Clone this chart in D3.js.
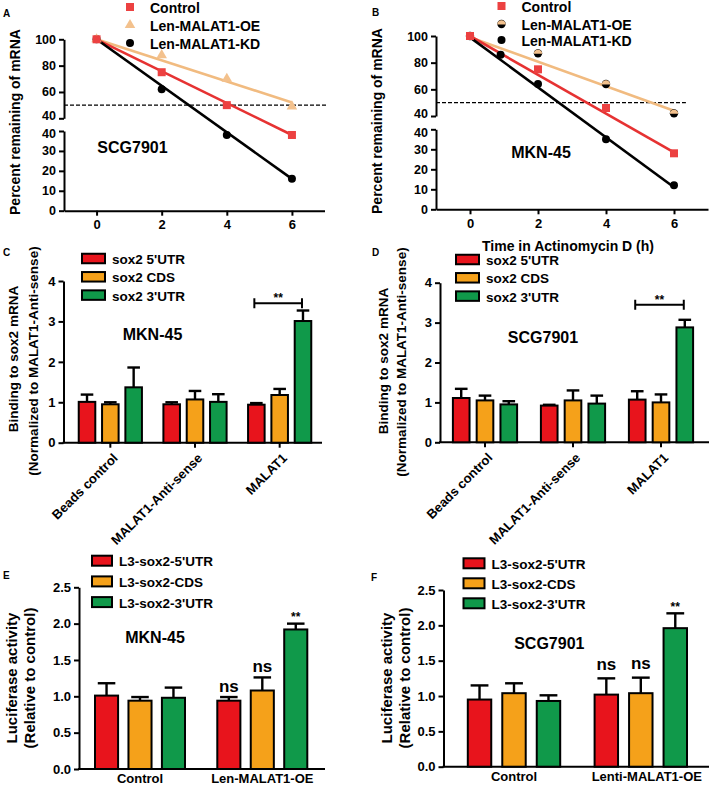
<!DOCTYPE html>
<html><head><meta charset="utf-8">
<script src="https://cdn.jsdelivr.net/npm/d3@7"></script>
<style>body{margin:0;background:#fff}svg text{font-family:"Liberation Sans",Arial,Helvetica,sans-serif;font-weight:bold;fill:#000}</style>
</head><body><svg id="c" width="709" height="788"></svg>
<script>
// ---------------- DATA ----------------
// Panel A (SCG7901) mRNA decay
const timeTicks = [0, 2, 4, 6];
const upperTicks = [40, 60, 80, 100];
const lowerTicks = [0, 10, 20, 30, 40];
const decaySeries = ["Control", "Len-MALAT1-OE", "Len-MALAT1-KD"];
const aTimes = [0, 2, 4, 6];
const aControl = [100, 75, 50, 38];
const aOE = [100, 88, 70, 49];
const aKD = [100, 62, 38, 16];
const aFitControl = [100, 38];
const aFitOE = [100, 52];
const aFitKD = [100, 16];
// Panel B (MKN-45)
const bTimes = [0, 2, 4, 6];
const bControl = [100, 75, 46, 28];
const bOE = [100, 87, 64, 42];
const bKDTimes = [0, 0.9, 2, 4, 6];
const bKD = [100, 86, 64, 35, 12];
const bFitControl = [100, 28.5];
const bFitOE = [99, 44];
const bFitKD = [99, 11];
const halfLife = 50;

// Panels C / D RNA pull-down
const ripCategories = ["Beads control", "MALAT1-Anti-sense", "MALAT1"];
const ripSeries = ["sox2 5'UTR", "sox2 CDS", "sox2 3'UTR"];
const ripTicks = [0, 1, 2, 3, 4];
const cMean = [[1.01, 0.95, 1.37], [0.95, 1.07, 1.01], [0.94, 1.18, 3.01]];
const cSD   = [[0.18, 0.05, 0.49], [0.05, 0.21, 0.19], [0.04, 0.15, 0.26]];
const dMean = [[1.11, 1.05, 0.95], [0.92, 1.05, 0.97], [1.07, 1.00, 2.88]];
const dSD   = [[0.23, 0.12, 0.08], [0.02, 0.25, 0.20], [0.21, 0.20, 0.19]];
const ripBracket = 3.45;

// Panels E / F luciferase
const lucSeries = ["L3-sox2-5'UTR", "L3-sox2-CDS", "L3-sox2-3'UTR"];
const eCategories = ["Control", "Len-MALAT1-OE"];
const fCategories = ["Control", "Lenti-MALAT1-OE"];
const lucTicks = [0, 0.5, 1.0, 1.5, 2.0, 2.5];
const eMean = [[1.01, 0.94, 0.98], [0.94, 1.08, 1.92]];
const eSD   = [[0.17, 0.05, 0.14], [0.05, 0.18, 0.08]];
const fMean = [[0.95, 1.04, 0.93], [1.02, 1.04, 1.96]];
const fSD   = [[0.20, 0.14, 0.08], [0.23, 0.22, 0.21]];
const lucSig = [["", "", ""], ["ns", "ns", "**"]];

// ---------------- STYLE ----------------
const RED = "#e8141c", ORANGE = "#f5a11a", GREEN = "#10994a";
const barColors = [RED, ORANGE, GREEN];
const CTRL = "#ec4141", CTRL_LINE = "#e63232", TAN = "#f3c18d", TAN_LINE = "#f1bb80";

const svg = d3.select("#c");

function styleAxis(g, fs) {
  g.selectAll("path,line").attr("stroke", "#000").attr("stroke-width", 2);
  g.selectAll("text").attr("font-size", fs).attr("fill", "#000");
}
function vtext(x, y, str, fs) {
  svg.append("text").attr("transform", `translate(${x},${y}) rotate(-90)`)
    .attr("text-anchor", "middle").attr("dominant-baseline", "central")
    .attr("font-size", fs).text(str);
}
function label(x, y, str, fs, anchor) {
  return svg.append("text").attr("x", x).attr("y", y).attr("font-size", fs)
    .attr("text-anchor", anchor || "start").attr("dominant-baseline", "central").text(str);
}

// marker drawers
function square(g, cx, cy) {
  g.append("rect").attr("x", cx - 4).attr("y", cy - 4).attr("width", 8).attr("height", 8).attr("fill", CTRL);
}
function triangle(g, cx, cy) {
  g.append("path").attr("d", d3.symbol(d3.symbolTriangle).size(48)()).attr("transform", `translate(${cx},${cy})`).attr("fill", TAN);
}
function circle(g, cx, cy) {
  g.append("circle").attr("cx", cx).attr("cy", cy).attr("r", 4).attr("fill", "#000");
}
function halfCircle(g, cx, cy) {
  g.append("circle").attr("cx", cx).attr("cy", cy).attr("r", 4.2).attr("fill", "#000");
  g.append("path").attr("d", d3.arc()({innerRadius: 0, outerRadius: 4.2, startAngle: -Math.PI / 2, endAngle: Math.PI / 2}))
    .attr("transform", `translate(${cx},${cy + 0.5})`).attr("fill", TAN);
}

// ---------------- DECAY PANELS ----------------
function decayPanel(o) {
  const g = svg.append("g");
  const x = d3.scaleLinear().domain([-1, 7]).range(o.xr);
  const yU = d3.scaleLinear().domain([40, 100]).range(o.yu);
  const yL = d3.scaleLinear().domain([0, 40]).range(o.yl);
  const y = v => v >= 40 ? yU(v) : yL(v);

  const ax0 = g.append("g").attr("transform", `translate(0,${o.yl[0]})`)
    .call(d3.axisBottom(x).tickValues(timeTicks).tickSize(5).tickSizeOuter(0).tickPadding(4));
  styleAxis(ax0, 13);
  const ay1 = g.append("g").attr("transform", `translate(${o.xr[0]},0)`)
    .call(d3.axisLeft(yU).tickValues(upperTicks).tickSize(5).tickSizeOuter(0).tickPadding(3));
  styleAxis(ay1, 12.5);
  ay1.selectAll("text").filter(d => d === 40).attr("dy", "0.1em");
  const ay2 = g.append("g").attr("transform", `translate(${o.xr[0]},0)`)
    .call(d3.axisLeft(yL).tickValues(lowerTicks).tickSize(5).tickSizeOuter(0).tickPadding(3));
  styleAxis(ay2, 12.5);
  ay2.selectAll("text").filter(d => d === 40).attr("dy", "0.55em");

  // half-life dashed line
  g.append("line").attr("x1", o.xr[0]).attr("x2", x(o.dashEnd)).attr("y1", y(halfLife)).attr("y2", y(halfLife))
    .attr("stroke", "#000").attr("stroke-width", 1.2).attr("stroke-dasharray", "4,2");

  // fitted lines
  const fits = [[o.fitOE, TAN_LINE], [o.fitControl, CTRL_LINE], [o.fitKD, "#000"]];
  fits.forEach(([f, c]) => {
    g.append("line").attr("x1", x(0)).attr("y1", y(f[0])).attr("x2", x(6)).attr("y2", y(f[1]))
      .attr("stroke", c).attr("stroke-width", 2.6);
  });
  // points
  o.kdTimes.forEach((t, i) => circle(g, x(t), y(o.kd[i])));
  o.times.forEach((t, i) => (o.oeMarker)(g, x(t), y(o.oe[i])));
  o.times.forEach((t, i) => square(g, x(t), y(o.control[i])));

  // legend
  const lm = [square, o.oeMarker, circle];
  decaySeries.forEach((s, i) => {
    lm[i](g, o.legX, o.legY[i]);
    label(o.legX + 20, o.legY[i] + 1, s, 14);
  });
  label(o.cellX, o.cellY, o.cell, 16, "middle");
}

decayPanel({
  xr: [64, 324.5], yu: [118.3, 39.3], yl: [210.7, 131], dashEnd: 7.1,
  times: aTimes, control: aControl, oe: aOE, kdTimes: aTimes, kd: aKD,
  fitControl: aFitControl, fitOE: aFitOE, fitKD: aFitKD, oeMarker: triangle,
  legX: 130, legY: [7, 25, 43], cell: "SCG7901", cellX: 132.5, cellY: 147
});
decayPanel({
  xr: [436, 708], yu: [116, 36], yl: [209.3, 129.3], dashEnd: 6.35,
  times: bTimes, control: bControl, oe: bOE, kdTimes: bKDTimes, kd: bKD,
  fitControl: bFitControl, fitOE: bFitOE, fitKD: bFitKD, oeMarker: halfCircle,
  legX: 501.5, legY: [6, 24, 40], cell: "MKN-45", cellX: 541, cellY: 152
});
vtext(15, 122, "Percent remaining of mRNA", 14);
vtext(377, 121, "Percent remaining of mRNA", 14);
label(568, 246, "Time in Actinomycin D (h)", 14, "middle");

// ---------------- BAR PANELS ----------------
function barPanel(o) {
  const g = svg.append("g");
  const x = d3.scaleBand().domain(o.cats).range(o.xr);
  const sub = d3.scaleBand().domain(o.series).range([-o.half, o.half]).paddingInner(o.pad);
  const y = d3.scaleLinear().domain([0, o.ymax]).range(o.yr);
  const bw = sub.bandwidth();
  const cx = (ci, si) => x(o.cats[ci]) + x.bandwidth() / 2 + sub(o.series[si]) + bw / 2;

  // y axis
  const ay = g.append("g").attr("transform", `translate(${o.axisX},0)`)
    .call(d3.axisLeft(y).tickValues(o.ticks).tickFormat(o.fmt).tickSize(5).tickSizeOuter(0).tickPadding(3));
  styleAxis(ay, 13);
  // x axis line
  g.append("line").attr("x1", o.axisX - 1).attr("x2", o.axisEnd).attr("y1", y(0)).attr("y2", y(0))
    .attr("stroke", "#000").attr("stroke-width", 2);
  if (o.xticks) {
    o.cats.forEach(c => {
      const xc = x(c) + x.bandwidth() / 2;
      g.append("line").attr("x1", xc).attr("x2", xc).attr("y1", y(0)).attr("y2", y(0) + 5)
        .attr("stroke", "#000").attr("stroke-width", 2);
    });
  }
  // bars + error bars
  o.mean.forEach((row, ci) => row.forEach((m, si) => {
    const xc = cx(ci, si);
    g.append("rect").attr("x", xc - bw / 2).attr("y", y(m)).attr("width", bw).attr("height", y(0) - y(m))
      .attr("fill", barColors[si]).attr("stroke", "#000").attr("stroke-width", 2);
    const top = m + o.sd[ci][si];
    g.append("line").attr("x1", xc).attr("x2", xc).attr("y1", y(m)).attr("y2", y(top))
      .attr("stroke", "#000").attr("stroke-width", 2.4);
    g.append("line").attr("x1", xc - bw * 0.38).attr("x2", xc + bw * 0.38).attr("y1", y(top)).attr("y2", y(top))
      .attr("stroke", "#000").attr("stroke-width", 2.4);
    if (o.sig && o.sig[ci][si]) {
      const s = o.sig[ci][si];
      g.append("text").attr("x", xc).attr("y", y(top) - (s === "**" ? o.starOff : o.nsOff))
        .attr("text-anchor", "middle").attr("font-size", s === "**" ? 12 : 17).text(s);
    }
  }));
  // bracket
  if (o.bracket) {
    const ci = o.cats.length - 1;
    const x1 = cx(ci, 0) - 2, x2 = cx(ci, 2) - 1, yb = y(o.bracket);
    g.append("path").attr("d", `M${x1},${yb - 5}V${yb + 5}M${x1},${yb}H${x2}M${x2},${yb - 5}V${yb + 5}`)
      .attr("stroke", "#000").attr("stroke-width", 2).attr("fill", "none");
    g.append("text").attr("x", (x1 + x2) / 2).attr("y", yb - 1).attr("text-anchor", "middle")
      .attr("font-size", 12).text("**");
  }
  // category labels
  o.cats.forEach((c, ci) => {
    const xc = x(c) + x.bandwidth() / 2;
    if (o.rotate) {
      g.append("text").attr("transform", `translate(${xc + 5},${y(0) + 13}) rotate(-45)`)
        .attr("text-anchor", "end").attr("font-size", 13).attr("dy", "0.35em").text(c);
    } else {
      g.append("text").attr("x", xc + (o.labelShift ? o.labelShift[ci] : 0)).attr("y", o.labelY)
        .attr("text-anchor", "middle").attr("font-size", 13).text(c);
    }
  });
  // legend
  o.series.forEach((s, i) => {
    const ly = o.legY + i * o.legStep;
    g.append("rect").attr("x", o.legX).attr("y", ly - o.legH / 2).attr("width", o.legW).attr("height", o.legH)
      .attr("fill", barColors[i]).attr("stroke", "#000").attr("stroke-width", 2);
    g.append("text").attr("x", o.legX + o.legW + 7).attr("y", ly + 1).attr("dominant-baseline", "central")
      .attr("font-size", o.legFs).text(s);
  });
  label(o.cellX, o.cellY, o.cell, 16, "middle");
}

barPanel({
  cats: ripCategories, series: ripSeries, mean: cMean, sd: cSD,
  xr: [68, 322], half: 31.6, pad: 0.29, ymax: 4, yr: [442.7, 281], ticks: ripTicks, fmt: d3.format("d"),
  axisX: 63.5, axisEnd: 322, xticks: true, rotate: true, bracket: ripBracket,
  legX: 82, legY: 258.5, legStep: 18.3, legW: 23, legH: 9.5, legFs: 13.5,
  cell: "MKN-45", cellX: 152.5, cellY: 334
});
barPanel({
  cats: ripCategories, series: ripSeries, mean: dMean, sd: dSD,
  xr: [441, 705], half: 32.1, pad: 0.3, ymax: 4, yr: [442.3, 282.7], ticks: ripTicks, fmt: d3.format("d"),
  axisX: 440, axisEnd: 709, xticks: true, rotate: true, bracket: ripBracket,
  legX: 456, legY: 259.5, legStep: 18.3, legW: 23, legH: 9.5, legFs: 13.5,
  cell: "SCG7901", cellX: 543, cellY: 337
});
barPanel({
  cats: eCategories, series: lucSeries, mean: eMean, sd: eSD, sig: lucSig, nsOff: 5, starOff: 3,
  xr: [78.85, 323.45], half: 45, pad: 0.31, ymax: 2.5, yr: [769, 587.3], ticks: lucTicks, fmt: d3.format(".1f"),
  axisX: 79, axisEnd: 325, xticks: false, rotate: false, labelY: 783,
  legX: 92, legY: 560.7, legStep: 20.7, legW: 20, legH: 10, legFs: 13.5,
  cell: "MKN-45", cellX: 155, cellY: 637
});
barPanel({
  cats: fCategories, series: lucSeries, mean: fMean, sd: fSD, sig: lucSig, nsOff: 8.5, starOff: 2,
  xr: [450.6, 704.2], half: 46.2, pad: 0.32, ymax: 2.5, yr: [766.7, 590], ticks: lucTicks, fmt: d3.format(".1f"),
  axisX: 443.5, axisEnd: 709, xticks: false, rotate: false, labelY: 781, labelShift: [0, 6],
  legX: 463.5, legY: 563.3, legStep: 20, legW: 21, legH: 10, legFs: 13.5,
  cell: "SCG7901", cellX: 549.3, cellY: 643.3
});

vtext(13.3, 359, "Binding to sox2 mRNA", 13.5);
vtext(33.3, 361, "(Normalized to MALAT1-Anti-sense)", 13.5);
vtext(383.3, 361, "Binding to sox2 mRNA", 13.5);
vtext(401.7, 362, "(Normalized to MALAT1-Anti-sense)", 13.5);
vtext(11.7, 678, "Luciferase activity", 15);
vtext(29.3, 678, "(Relative to control)", 15);
vtext(386.7, 678, "Luciferase activity", 15);
vtext(404.3, 678, "(Relative to control)", 15);

// panel letters
[["A", 3, 13], ["B", 372, 12], ["C", 3, 252], ["D", 372, 252], ["E", 3, 575], ["F", 371, 577]]
  .forEach(([t, x, y]) => label(x, y, t, 10));
</script></body></html>
